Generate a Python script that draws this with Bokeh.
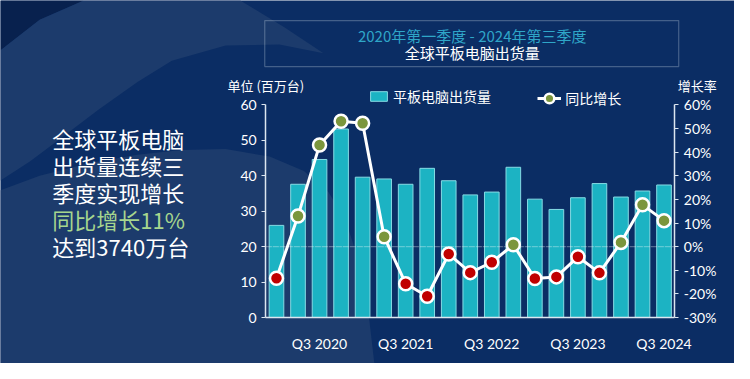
import numpy as np
from bokeh.plotting import figure
from bokeh.models import (ColumnDataSource, Range1d, LinearAxis, FixedTicker, Label,
                          BoxAnnotation, Legend, LegendItem, PolyAnnotation, PrintfTickFormatter)
from bokeh.embed import file_html
from bokeh.resources import INLINE

# ---------------- data ----------------
quarters = ["Q1 2020", "Q2 2020", "Q3 2020", "Q4 2020",
            "Q1 2021", "Q2 2021", "Q3 2021", "Q4 2021",
            "Q1 2022", "Q2 2022", "Q3 2022", "Q4 2022",
            "Q1 2023", "Q2 2023", "Q3 2023", "Q4 2023",
            "Q1 2024", "Q2 2024", "Q3 2024"]
shipments = [26.0, 37.6, 44.6, 53.2, 39.6, 39.1, 37.6, 42.1, 38.6, 34.6,
             35.4, 42.4, 33.4, 30.5, 33.8, 37.8, 34.0, 35.7, 37.4]
growth = [-13.4, 13.0, 43.0, 53.1, 52.2, 4.2, -15.7, -21.0, -3.1, -11.0,
          -6.6, 0.8, -13.5, -12.8, -4.3, -11.1, 1.8, 17.7, 11.0]
left_ticks = [0, 10, 20, 30, 40, 50, 60]
right_ticks = [-30, -20, -10, 0, 10, 20, 30, 40, 50, 60]
title_line1 = "2020年第一季度 - 2024年第三季度"
title_line2 = "全球平板电脑出货量"
side_lines = ["全球平板电脑", "出货量连续三", "季度实现增长", "同比增长11%", "达到3740万台"]
bar_name = "平板电脑出货量"
line_name = "同比增长"
left_unit = "单位 (百万台)"
right_unit = "增长率"

# ---------------- styles ----------------
BG_DARK = "#0b2d64"
BG_CORNER = "#08214e"
BG_LIGHT = "#1c3b6c"
BAR = "#1cb3c3"
BAR_EDGE = "#86dbe4"
AXIS = "#dce6f0"
RED = "#c00000"
GREEN = "#7b963c"
CJK = "Noto Sans CJK SC"
NUM = "Lato"

W, H = 734, 363
RW, RH = 750, 379          # reference picture size


def fx(X):                  # reference px -> canvas px (from left)
    return X * W / RW


def fy(Y):                  # reference px -> canvas px (from top)
    return Y * H / RH


def sx(X):                  # screen x for annotations (from left)
    return fx(X)


def sy(Y):                  # screen y for annotations (from bottom)
    return H - fy(Y)


# chart frame location in the reference
FL, FR, FT, FB = 271, 689, 109, 331
n = len(quarters)
ppx = (fx(FR) - fx(FL)) / n
x_start = -0.5 - fx(FL) / ppx
x_end = n - 0.5 + (W - fx(FR)) / ppx
ppy = (fy(FB) - fy(FT)) / 60
y_start = 0 - (H - fy(FB)) / ppy
y_end = 60 + fy(FT) / ppy
ppg = (fy(FB) - fy(FT)) / 90
g_start = -30 - (H - fy(FB)) / ppg
g_end = 60 + fy(FT) / ppg

x = list(range(n))
pt_colors = [GREEN if g >= 0 else RED for g in growth]
src = ColumnDataSource(dict(x=x, q=quarters, s=shipments, g=growth, c=pt_colors))

p = figure(width=W, height=H, output_backend="svg", toolbar_location=None,
           x_range=Range1d(x_start, x_end), y_range=Range1d(y_start, y_end),
           min_border=0, min_border_left=0, min_border_right=0, min_border_top=0,
           min_border_bottom=0,
           background_fill_color=BG_DARK, border_fill_color=BG_DARK,
           outline_line_color=None)
p.extra_y_ranges = {"g": Range1d(g_start, g_end)}


def deco(pts, color):
    p.add_layout(PolyAnnotation(xs=[sx(a) for a, b in pts], ys=[sy(b) for a, b in pts],
                                xs_units="screen", ys_units="screen", fill_color=color,
                                fill_alpha=1, line_alpha=0, level="underlay"))


# decorative background shapes (reference pixel coords)
deco([(0, 0), (85, 0), (40, 20), (0, 52)], BG_CORNER)
deco([(330, 55), (290, 28), (245, 0), (85, 0), (40, 20), (0, 52), (0, 188), (30, 168),
      (60, 145), (100, 114), (140, 85), (175, 63), (230, 47), (285, 46)], BG_LIGHT)
deco([(0, 198), (40, 183), (90, 170), (140, 161), (185, 156), (230, 155), (275, 163),
      (310, 178), (335, 200), (352, 228), (363, 262), (371, 300), (377, 335), (382, 379),
      (0, 379)], BG_LIGHT)

# ---------------- axes ----------------
p.xaxis.fixed_location = 0
p.xaxis.bounds = (-0.5, n - 0.5)
p.xaxis.ticker = FixedTicker(ticks=[i for i, q in enumerate(quarters) if q.startswith("Q3")])
p.xaxis.major_label_overrides = {i: q for i, q in enumerate(quarters)}
p.xaxis.major_tick_line_color = None
p.xaxis.minor_tick_line_color = None
p.xaxis.axis_line_color = AXIS
p.xaxis.axis_line_width = 1.5
p.xaxis.major_label_text_color = "white"
p.xaxis.major_label_text_font = NUM
p.xaxis.major_label_text_font_size = "14px"
p.xaxis.major_label_standoff = 11

ya = p.yaxis[0]
ya.fixed_location = -0.5
ya.bounds = (0, 60)
ya.ticker = FixedTicker(ticks=left_ticks)
ya.axis_line_color = AXIS
ya.axis_line_width = 1.5
ya.major_tick_line_color = AXIS
ya.major_tick_in = 0
ya.major_tick_out = 4
ya.minor_tick_line_color = None
ya.major_label_text_color = "white"
ya.major_label_text_font = NUM
ya.major_label_text_font_size = "14px"
ya.major_label_standoff = 5

ra = LinearAxis(y_range_name="g", ticker=FixedTicker(ticks=right_ticks),
                formatter=PrintfTickFormatter(format="%d%%"),
                fixed_location=n - 0.5, bounds=(-30, 60))
ra.axis_line_color = AXIS
ra.axis_line_width = 1.5
ra.major_tick_line_color = AXIS
ra.major_tick_in = 0
ra.major_tick_out = 4
ra.minor_tick_line_color = None
ra.major_label_text_color = "white"
ra.major_label_text_font = NUM
ra.major_label_text_font_size = "14px"
ra.major_label_standoff = 5
p.add_layout(ra, "right")

p.xgrid.grid_line_color = None
p.ygrid.grid_line_color = None

# ---------------- marks ----------------
bars = p.vbar(x="x", top="s", width=0.68, source=src, fill_color=BAR,
              line_color=BAR_EDGE, line_width=1)
# dashed reference line at 20 (= 0 %), spanning the plot area, drawn over the bars
p.add_layout(BoxAnnotation(left=-0.5, right=n - 0.5, bottom=20, top=20, fill_alpha=0,
                           line_color="white", line_dash="4 3", line_width=1.3,
                           level="annotation"))
ln = p.line(x="x", y="g", source=src, y_range_name="g", line_color="white", line_width=3,
            level="overlay")
pts = p.scatter(x="x", y="g", source=src, y_range_name="g", size=13, fill_color="c",
                line_color="white", line_width=2.5, level="overlay")

first_pos = next(i for i, g in enumerate(growth) if g >= 0)
common = dict(orientation="horizontal", background_fill_alpha=0, border_line_alpha=0,
              label_text_color="white", label_text_font=CJK, label_text_font_size="14px",
              padding=0, margin=0, label_standoff=4)
leg1 = Legend(items=[LegendItem(label=bar_name, renderers=[bars])],
              location=(sx(376), sy(102) - 8), glyph_width=21, glyph_height=12, **common)
leg2 = Legend(items=[LegendItem(label=line_name, renderers=[ln, pts], index=first_pos)],
              location=(sx(549), sy(102) - 12), glyph_width=24, glyph_height=24, **common)
p.add_layout(leg1, "center")
p.add_layout(leg2, "center")

# ---------------- title box & texts ----------------
p.add_layout(BoxAnnotation(left=sx(270), right=sx(693), top=sy(21), bottom=sy(69),
                           left_units="screen", right_units="screen", top_units="screen",
                           bottom_units="screen", fill_alpha=0, line_color="#c9d6e4",
                           line_width=1.2))
p.add_layout(Label(x=sx(482), y=sy(37), x_units="screen", y_units="screen", text=title_line1,
                   text_align="center", text_baseline="middle", text_color="#2fa6c8",
                   text_font=CJK, text_font_size="15px"))
p.add_layout(Label(x=sx(482), y=sy(54), x_units="screen", y_units="screen", text=title_line2,
                   text_align="center", text_baseline="middle", text_color="white",
                   text_font=CJK, text_font_size="15px"))
p.add_layout(Label(x=sx(232), y=sy(89), x_units="screen", y_units="screen", text=left_unit,
                   text_align="left", text_baseline="middle", text_color="white",
                   text_font=CJK, text_font_size="13px"))
p.add_layout(Label(x=sx(692), y=sy(89), x_units="screen", y_units="screen", text=right_unit,
                   text_align="left", text_baseline="middle", text_color="white",
                   text_font=CJK, text_font_size="13px"))

for i, t in enumerate(side_lines):
    p.add_layout(Label(x=sx(53), y=sy(144 + 28 * i), x_units="screen", y_units="screen",
                       text=t, text_align="left", text_baseline="middle",
                       text_color="#a6d68e" if i == 3 else "white",
                       text_font=CJK, text_font_size="22px"))

open("out.html", "w").write(file_html(p, INLINE))
